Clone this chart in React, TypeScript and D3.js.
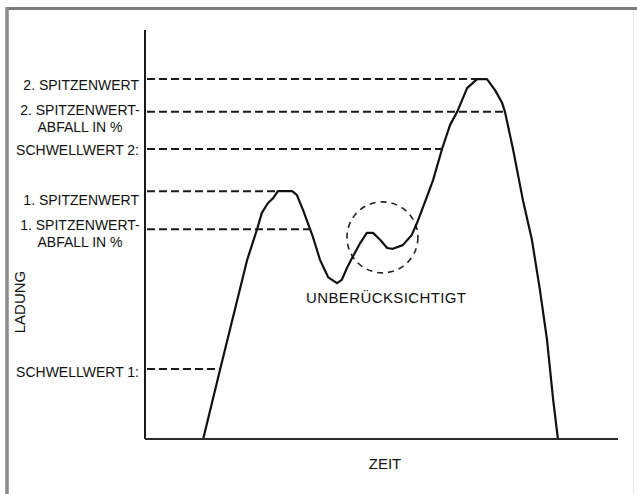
import React from "react";
import * as d3 from "d3";

// ---- data (time / charge in arbitrary percent units) ----
const curveTime = [12.3, 15.9, 20.3, 21.6, 23.7, 24.7, 26.0, 27.1, 28.1, 31.1, 32.1, 33.4, 34.9, 35.5, 37.0, 38.7, 39.3, 40.6, 41.6, 42.7, 43.8, 45.5, 46.9, 48.2, 49.7, 51.2, 52.4, 54.5, 56.4, 57.5, 59.6, 60.9, 62.8, 64.5, 66.0, 68.1, 70.2, 72.3, 74.0, 75.5, 76.1, 77.8, 79.9, 81.8, 83.5, 85.0, 86.3, 87.3];
const curveCharge = [0, 17.1, 37.7, 43.8, 51.3, 55.3, 57.7, 58.9, 60.6, 60.6, 59.7, 56.0, 51.3, 49.4, 43.8, 39.6, 39.1, 38.1, 38.9, 41.8, 44.3, 47.9, 50.4, 50.4, 48.7, 46.7, 46.5, 47.4, 49.9, 52.8, 59.2, 63.3, 70.9, 76.8, 80.0, 85.8, 88.0, 88.0, 85.3, 82.2, 80.0, 70.9, 58.4, 48.7, 36.4, 24.2, 9.5, 0];

const thresholdLabels = ["2. SPITZENWERT", "2. SPITZENWERT-\nABFALL IN %", "SCHWELLWERT 2:", "1. SPITZENWERT", "1. SPITZENWERT-\nABFALL IN %", "SCHWELLWERT 1:"];
const thresholdValues = [88.0, 80.0, 70.9, 60.6, 51.3, 17.1];
const thresholdCrossing = ["up", "down", "up", "up", "down", "up"];

const circleCenter = [50.2, 49.3];
const circleRadius = 7.5;

const xTitle = "ZEIT";
const yTitle = "LADUNG";
const noteText = "UNBERÜCKSICHTIGT";

// layout
const W = 637, H = 494;
const plotLeft = 145, plotRight = 618, plotTop = 30, plotBottom = 439;
const labelDy = [11, 3, 6, 14, 1, 8];
const labelRight = 139;
const labelCenter = 80;
const FONT = "'Liberation Sans', Arial, sans-serif";

function crossing(times: number[], vals: number[], level: number, dir: string): number {
  for (let i = 1; i < vals.length; i++) {
    const a = vals[i - 1], b = vals[i];
    if (dir === "up" && a < level && b >= level) {
      return times[i - 1] + ((level - a) / (b - a)) * (times[i] - times[i - 1]);
    }
    if (dir === "down" && a > level && b <= level) {
      return times[i - 1] + ((a - level) / (a - b)) * (times[i] - times[i - 1]);
    }
  }
  return times[times.length - 1];
}

export default function App() {
  const x = d3.scaleLinear().domain([0, 100]).range([plotLeft, plotRight]);
  const y = d3.scaleLinear().domain([0, 100]).range([plotBottom, plotTop]);
  const pts: [number, number][] = curveTime.map((t, i) => [t, curveCharge[i]]);
  const line = d3.line<[number, number]>().x((d) => x(d[0])).y((d) => y(d[1])).curve(d3.curveLinear);

  const cx = x(circleCenter[0]);
  const cy = y(circleCenter[1]);
  const r = x(circleCenter[0] + circleRadius) - x(circleCenter[0]);

  return (
    <svg width={W} height={H} style={{ position: "absolute", left: 0, top: 0, background: "#fff" }} fontFamily={FONT}>
      <rect x={0} y={0} width={W} height={H} fill="#fff" />
      {/* frame */}
      <line x1={7} y1={8.5} x2={W} y2={8.5} stroke="#7c7c7c" strokeWidth={3} />
      <line x1={7} y1={7} x2={7} y2={H} stroke="#8a8a8a" strokeWidth={3.5} />
      <line x1={633.5} y1={10} x2={633.5} y2={H} stroke="#e6e6e6" strokeWidth={1} />

      {/* threshold dashed lines */}
      {thresholdValues.map((v, i) => {
        const xe = crossing(curveTime, curveCharge, v, thresholdCrossing[i]);
        return (
          <line key={"d" + i} x1={plotLeft + 2} y1={y(v)} x2={x(xe)} y2={y(v)} stroke="#1a1a1a" strokeWidth={2} strokeDasharray="8,4" />
        );
      })}

      {/* ignored bump circle */}
      <circle cx={cx} cy={cy} r={r} fill="none" stroke="#222" strokeWidth={1.6} strokeDasharray="6,5" />

      {/* curve */}
      <path d={line(pts) || ""} fill="none" stroke="#111" strokeWidth={2.2} strokeLinejoin="round" />

      {/* axes */}
      <line x1={plotLeft} y1={plotTop} x2={plotLeft} y2={plotBottom} stroke="#1a1a1a" strokeWidth={2} />
      <line x1={plotLeft} y1={plotBottom} x2={plotRight} y2={plotBottom} stroke="#2a2a2a" strokeWidth={2} />

      {/* threshold labels */}
      {thresholdLabels.map((lab, i) => {
        const parts = lab.split("\n");
        const by = y(thresholdValues[i]) + labelDy[i];
        if (parts.length === 1) {
          return (
            <text key={"l" + i} x={labelRight} y={by} fontSize={14} textAnchor="end" fill="#111">{lab}</text>
          );
        }
        return (
          <text key={"l" + i} x={labelCenter} y={by} fontSize={14} textAnchor="middle" fill="#111">
            {parts.map((p, j) => (
              <tspan key={j} x={labelCenter} dy={j === 0 ? 0 : 17}>{p}</tspan>
            ))}
          </text>
        );
      })}

      <text x={386} y={303} fontSize={15} textAnchor="middle" fill="#111" textLength={160} lengthAdjust="spacing">{noteText}</text>
      <text x={385} y={469} fontSize={15} textAnchor="middle" fill="#111">{xTitle}</text>
      <text transform={`translate(25,302) rotate(-90)`} fontSize={15} textAnchor="middle" fill="#111">{yTitle}</text>
    </svg>
  );
}
